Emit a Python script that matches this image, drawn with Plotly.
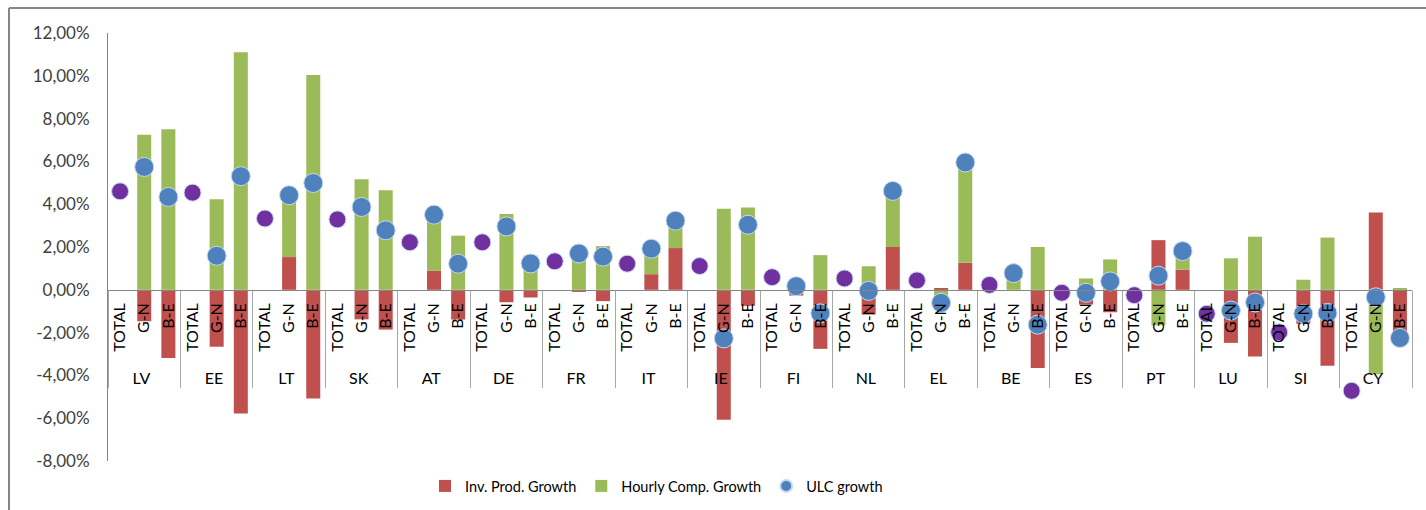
import plotly.graph_objects as go

countries = ["LV", "EE", "LT", "SK", "AT", "DE", "FR", "IT", "IE",
             "FI", "NL", "EL", "BE", "ES", "PT", "LU", "SI", "CY"]
sectors = ["TOTAL", "G-N", "B-E"]

# ULC growth of the whole economy (TOTAL, shown in purple), in %
ulc_total = [4.60, 4.54, 3.33, 3.29, 2.22, 2.22, 1.33, 1.22, 1.11,
             0.59, 0.53, 0.44, 0.23, -0.14, -0.25, -1.12, -1.98, -4.72]

# G-N sector, in %
inv_prod_gn = [-1.47, -2.66, 1.53, -1.38, 0.90, -0.58, -0.10, 0.73, -6.07,
               -0.27, -1.16, 0.05, 0.00, -0.69, 2.32, -2.48, -1.59, 3.61]
hourly_comp_gn = [7.24, 4.23, 2.89, 5.17, 2.61, 3.54, 1.80, 1.19, 3.79,
                  0.44, 1.10, -0.66, 0.78, 0.53, -1.66, 1.47, 0.47, -3.95]
ulc_gn = [5.74, 1.59, 4.42, 3.87, 3.51, 2.96, 1.70, 1.92, -2.27,
          0.17, -0.05, -0.61, 0.78, -0.14, 0.66, -0.97, -1.12, -0.35]

# B-E sector, in %
inv_prod_be = [-3.19, -5.78, -5.08, -1.86, -1.39, -0.36, -0.53, 1.95, -0.75,
               -2.76, 2.00, 1.26, -3.65, -1.05, 0.94, -3.12, -3.55, -2.30]
hourly_comp_be = [7.50, 11.10, 10.04, 4.65, 2.53, 1.60, 2.04, 1.28, 3.85,
                  1.62, 2.62, 4.69, 2.00, 1.42, 0.87, 2.48, 2.44, 0.05]
ulc_be = [4.34, 5.31, 4.99, 2.78, 1.22, 1.23, 1.55, 3.23, 3.04,
          -1.10, 4.62, 5.95, -1.63, 0.39, 1.81, -0.59, -1.08, -2.25]

y_ticks = [-8, -6, -4, -2, 0, 2, 4, 6, 8, 10, 12]
y_tick_labels = ["-8,00%", "-6,00%", "-4,00%", "-2,00%", "0,00%", "2,00%",
                 "4,00%", "6,00%", "8,00%", "10,00%", "12,00%"]

RED = "#C0504D"
GREEN = "#9BBB59"
BLUE = "#4F81BD"
PURPLE = "#7030A0"
AXIS = "#868686"
FONT = "Lato"

# rotated sector labels get a little non-breaking padding so the country
# row sits lower, as in the Excel original
sector_labels = ["\u00a0\u00a0" + s for s in sectors]

# flatten to the two-level category axis (country / sector)
x_outer = [c for c in countries for _ in sectors]
x_inner = [s for _ in countries for s in sector_labels]
inv_prod = [v for i in range(len(countries)) for v in (None, inv_prod_gn[i], inv_prod_be[i])]
hourly_comp = [v for i in range(len(countries)) for v in (None, hourly_comp_gn[i], hourly_comp_be[i])]

ulc_x_outer = [c for c in countries for _ in sectors[1:]]
ulc_x_inner = [s for _ in countries for s in sector_labels[1:]]
ulc_y = [v for i in range(len(countries)) for v in (ulc_gn[i], ulc_be[i])]

fig = go.Figure()
fig.add_trace(go.Bar(
    x=[x_outer, x_inner], y=inv_prod, name="Inv. Prod. Growth",
    marker=dict(color=RED, line=dict(width=0)),
))
fig.add_trace(go.Bar(
    x=[x_outer, x_inner], y=hourly_comp, name="Hourly Comp. Growth",
    marker=dict(color=GREEN, line=dict(width=0)),
))
fig.add_trace(go.Scatter(
    x=[countries, [sector_labels[0]] * len(countries)], y=ulc_total, mode="markers",
    marker=dict(color=PURPLE, size=17, line=dict(color="#C6D9F1", width=1)),
    name="ULC total", showlegend=False,
))
fig.add_trace(go.Scatter(
    x=[ulc_x_outer, ulc_x_inner], y=ulc_y, mode="markers",
    marker=dict(color=BLUE, size=19, line=dict(color="#C6D9F1", width=1)),
    name="ULC growth",
))

W, H = 1426, 510
L, R, T, B = 108, 14, 33, 49
pw, ph = W - L - R, H - T - B


def px_x(px):
    return (px - L) / pw


def px_y(py):
    return (H - B - py) / ph


# Excel-like chart border (left and top edges visible)
fig.add_shape(type="line", xref="paper", yref="paper",
              x0=px_x(9), x1=px_x(W + 5), y0=px_y(8), y1=px_y(8),
              line=dict(color=AXIS, width=2))
fig.add_shape(type="line", xref="paper", yref="paper",
              x0=px_x(9), x1=px_x(9), y0=px_y(8), y1=px_y(H + 5),
              line=dict(color=AXIS, width=2))

n_slots = len(countries) * len(sectors)

fig.update_layout(
    width=W, height=H,
    margin=dict(l=L, r=R, t=T, b=B, autoexpand=False),
    paper_bgcolor="white", plot_bgcolor="white",
    barmode="relative", bargap=0.42,
    font=dict(family=FONT, size=16, color="#000000"),
    legend=dict(orientation="h", x=px_x(425), xanchor="left",
                y=px_y(486), yanchor="middle", itemsizing="constant",
                font=dict(size=14.5, color="#000000"), itemwidth=30),
    xaxis=dict(
        type="multicategory", anchor="free", position=0.4,
        range=[-0.5, n_slots - 0.5], automargin=False,
        showline=True, linecolor=AXIS, linewidth=1,
        tickangle=-90, ticks="", showgrid=False, ticklabelstandoff=6,
        showdividers=True, dividercolor="#A6A6A6", dividerwidth=1,
        tickfont=dict(size=16, color="#000000"),
    ),
    yaxis=dict(
        range=[-8, 12], tickvals=y_ticks, ticktext=y_tick_labels,
        automargin=False,
        showline=True, linecolor=AXIS, linewidth=1,
        showgrid=False, zeroline=False, ticks="",
        ticklabelstandoff=14,
        tickfont=dict(size=17, color="#404040"),
    ),
)

fig.write_html("out.html", config={"displayModeBar": False},
               post_script="document.body.style.margin='0';")
